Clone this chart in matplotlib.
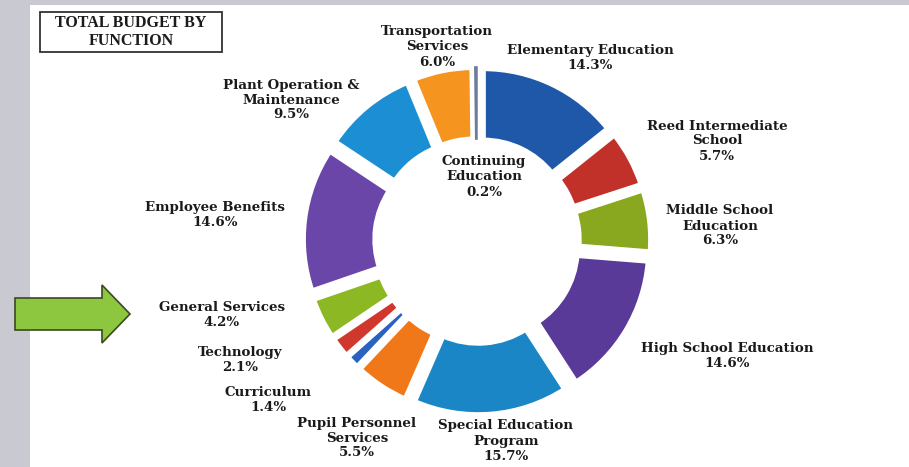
import matplotlib
matplotlib.use("Agg")
import matplotlib.pyplot as plt
from matplotlib.patches import Rectangle, FancyArrow

# Budget shares, clockwise from 12 o'clock
functions = [
    "Elementary Education", "Reed Intermediate\nSchool", "Middle School\nEducation",
    "High School Education", "Special Education\nProgram", "Pupil Personnel\nServices",
    "Curriculum", "Technology", "General Services", "Employee Benefits",
    "Plant Operation &\nMaintenance", "Transportation\nServices", "Continuing\nEducation",
]
shares = [14.3, 5.7, 6.3, 14.6, 15.7, 5.5, 1.4, 2.1, 4.2, 14.6, 9.5, 6.0, 0.2]

colors = ['#1f58a8', '#c2302a', '#8aa81f', '#5a3a98', '#1a86c6', '#f07818',
          '#2a62c0', '#d0382e', '#8cb823', '#6a46a8', '#1c8fd4', '#f5941e', '#6c7c9c']

# label centres in pixel coordinates (x, y from top)
label_pos = [(590, 58), (717, 141), (720, 226), (727, 356), (506, 441), (357, 438),
             (268, 400), (240, 360), (222, 315), (215, 215), (291, 100), (437, 47), (484, 177)]

W, H = 909, 467
fig = plt.figure(figsize=(W / 100, H / 100), dpi=100, facecolor='#c9cad1')
ax = fig.add_axes([0, 0, 1, 1])

# white page area
ax.add_patch(Rectangle((30, 0), W - 30, H - 5, facecolor='white', edgecolor='none', zorder=0))

wedges, _ = ax.pie(shares, radius=160, center=(477, H - 241), startangle=90,
                   counterclock=False, explode=[14] * len(shares), colors=colors,
                   wedgeprops=dict(width=72, edgecolor='white', linewidth=4))
# tiny slice would vanish under the white edge
wedges[-1].set_edgecolor(colors[-1])
wedges[-1].set_linewidth(1.2)

for name, val, (px, py) in zip(functions, shares, label_pos):
    ax.text(px, H - py, f"{name}\n{val:.1f}%", ha='center', va='center',
            fontsize=9.6, fontweight='bold', family='DejaVu Serif', color='#1a1a1a',
            linespacing=1.2)

# title box
ax.add_patch(Rectangle((40, H - 52), 182, 40, facecolor='white', edgecolor='#333333',
                       linewidth=1.3, zorder=3))
ax.text(131, H - 32, "TOTAL BUDGET BY\nFUNCTION", ha='center', va='center',
        fontsize=11.5, fontweight='bold', family='Liberation Serif', color='#1a1a1a',
        linespacing=1.1, zorder=4)

# green arrow pointing at General Services
ax.add_patch(FancyArrow(15, H - 314, 115, 0, width=32, head_width=58, head_length=28,
                        length_includes_head=True, facecolor='#8dc63f',
                        edgecolor='#3b4a22', linewidth=1.2, zorder=3))

ax.set_xlim(0, W)
ax.set_ylim(0, H)
ax.set_aspect('auto')
ax.axis('off')

fig.savefig('out.png', dpi=100, facecolor=fig.get_facecolor())
